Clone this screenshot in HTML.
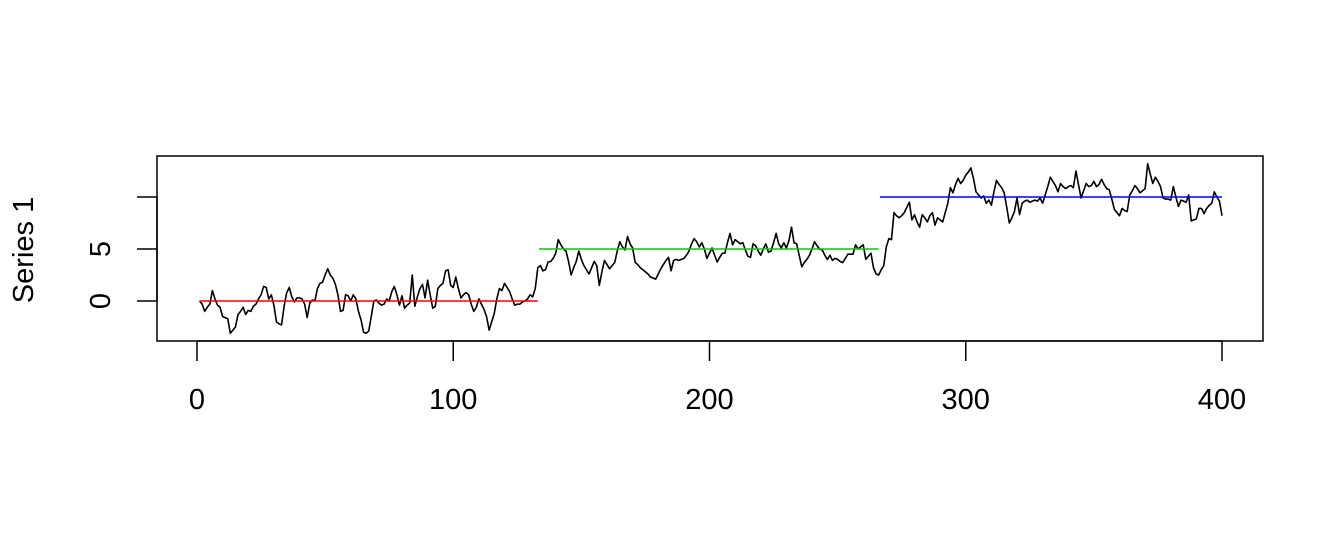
<!DOCTYPE html>
<html><head><meta charset="utf-8"><style>
html,body{margin:0;padding:0;background:#fff;}
svg{display:block;font-family:"Liberation Sans",Arial,sans-serif;}
</style></head><body>
<svg id="chart" width="1344" height="537" viewBox="0 0 1344 537"></svg>
<script>
const series1 = [
0.0,-0.3,-1.0,-0.6,-0.3,1.0,0.2,-0.4,-0.6,-1.5,
-1.6,-1.7,-3.1,-2.8,-2.5,-1.3,-1.0,-0.6,-1.3,-0.9,
-1.0,-0.5,-0.3,0.2,0.6,1.4,1.3,0.2,0.6,-0.4,
-2.0,-2.2,-2.3,-0.5,0.8,1.3,0.4,-0.1,0.3,0.3,
0.2,-0.3,-1.6,-0.2,0.1,0.0,1.2,1.7,1.8,2.5,
3.1,2.5,2.2,1.6,0.6,-1.0,-0.9,0.6,0.5,0.0,
0.6,0.2,-1.0,-1.8,-3.0,-3.1,-2.9,-1.5,0.0,0.1,
-0.2,-0.4,-0.3,0.2,0.0,0.9,1.4,0.6,-0.4,0.5,
-0.7,-0.4,-0.2,2.5,-0.5,0.4,1.2,1.6,0.3,2.0,
0.6,-0.7,-0.5,1.2,1.5,1.7,2.9,3.0,1.5,1.3,
2.3,1.2,0.3,0.6,0.8,0.6,-0.3,-1.0,-0.6,0.2,
-0.3,-0.8,-1.5,-2.8,-2.0,-1.2,0.2,1.2,1.0,1.7,
1.3,0.9,0.2,-0.4,-0.3,-0.3,-0.1,0.0,0.2,0.6,
0.4,1.2,3.2,3.4,2.9,3.0,3.75,3.8,4.1,4.6,
5.9,5.4,5.0,4.8,3.8,2.5,3.2,3.8,4.8,4.0,
3.4,3.0,2.6,3.2,3.8,3.4,1.5,2.8,3.9,3.5,
3.1,3.4,3.7,4.8,5.7,5.2,4.9,6.2,5.5,5.1,
3.7,3.5,3.2,3.0,2.8,2.6,2.3,2.2,2.1,2.6,
3.1,3.5,3.9,4.2,2.9,3.9,4.0,3.9,4.0,4.1,
4.4,4.8,5.5,6.0,5.7,5.2,5.6,5.0,4.1,4.6,
5.1,4.4,3.75,4.2,4.6,4.6,5.6,6.5,5.4,5.9,
5.7,5.5,5.6,4.9,4.3,4.2,5.5,5.3,4.8,4.4,
5.0,5.5,4.7,4.8,5.6,6.5,5.5,5.1,5.6,5.1,
5.8,7.1,5.6,5.5,4.4,3.3,3.7,4.0,4.4,5.0,
5.7,5.3,5.0,4.9,4.4,4.0,4.4,3.9,4.1,4.0,
3.8,3.7,4.1,4.5,4.5,4.5,5.4,5.0,5.2,5.4,
4.0,4.3,4.6,3.2,2.6,2.5,3.0,3.4,5.2,6.0,
5.9,8.5,8.2,8.0,8.2,8.5,9.0,9.5,7.8,8.3,
7.6,7.1,8.3,8.0,7.6,8.2,8.5,7.3,8.0,7.8,
7.6,8.5,9.4,10.9,10.4,11.2,11.8,11.3,11.6,12.1,
12.4,12.8,11.8,10.5,10.2,9.9,10.1,9.4,9.7,9.2,
10.5,11.6,11.2,10.9,10.4,9.0,7.5,8.0,8.6,9.9,
8.3,9.4,9.6,9.7,9.5,9.6,9.7,9.6,9.9,9.4,
10.2,11.0,11.9,11.5,11.1,10.5,11.3,11.0,10.8,11.0,
11.1,10.9,12.5,11.2,9.9,10.6,11.3,11.0,11.1,11.5,
11.0,11.2,11.7,11.2,10.8,10.7,9.8,8.8,8.5,8.2,
8.9,8.7,8.6,10.2,10.6,11.1,10.8,10.4,10.6,10.8,
13.2,12.2,11.3,11.9,11.5,11.0,9.9,9.8,9.8,9.7,
11.0,10.0,9.1,9.7,9.6,9.5,10.2,7.7,7.8,7.9,
8.9,8.9,8.4,8.9,9.2,9.4,10.5,10.0,9.6,8.2
];
const segStarts = [1, 133.5, 266.5];
const segEnds = [133, 266, 400];
const segMeans = [0, 5, 10];
const segColors = ["#ff0000", "#00cd00", "#0000ff"];
const xTicks = [0, 100, 200, 300, 400];
const yTicks = [0, 5, 10];
const yTickLabels = ["0", "5", ""];

const NS = "http://www.w3.org/2000/svg";
const svg = document.getElementById("chart");
const xs = v => 197 + v * 1025 / 400;
const ys = v => 301 - v * 10.4;
function mk(tag, attrs, parent) {
  const e = document.createElementNS(NS, tag);
  for (const k in attrs) e.setAttribute(k, attrs[k]);
  (parent || svg).appendChild(e);
  return e;
}
const box = mk("rect", {x:157, y:156, width:1106, height:185, fill:"none", stroke:"#000", "stroke-width":1.5});



// x axis
const xAxis = mk("g", {});


mk("line", {x1:xs(xTicks[0]), x2:xs(xTicks[xTicks.length-1]), y1:341, y2:341, stroke:"#000", "stroke-width":1.5}, xAxis);
xTicks.forEach(t => {
  mk("line", {x1:xs(t), x2:xs(t), y1:341, y2:361, stroke:"#000", "stroke-width":1.5}, xAxis);
  const tx = mk("text", {x:xs(t), y:409, "text-anchor":"middle", "font-size":29, fill:"#000"}, xAxis);
  tx.textContent = t;
  
  
});

// y axis
const yAxis = mk("g", {});


mk("line", {x1:157, x2:157, y1:ys(yTicks[0]), y2:ys(yTicks[yTicks.length-1]), stroke:"#000", "stroke-width":1.5}, yAxis);
yTicks.forEach((t, i) => {
  mk("line", {x1:137, x2:157, y1:ys(t), y2:ys(t), stroke:"#000", "stroke-width":1.5}, yAxis);
  if (yTickLabels[i]) {
    const tx = mk("text", {x:110, y:ys(t), "text-anchor":"middle", "font-size":29, fill:"#000", transform:`rotate(-90 110 ${ys(t)})`}, yAxis);
    tx.textContent = yTickLabels[i];
    
    
  }
});
const yt = mk("text", {x:33, y:250, "text-anchor":"middle", "font-size":29, fill:"#000", transform:"rotate(-90 33 250)"});
yt.textContent = "Series 1";



// series line
const pts = series1.map((v, i) => xs(i + 1).toFixed(2) + "," + ys(v).toFixed(2)).join(" ");
const pl = mk("polyline", {points:pts, fill:"none", stroke:"#000", "stroke-width":1.6, "stroke-linejoin":"round"});



// segment means
segMeans.forEach((m, i) => {
  const l = mk("line", {x1:xs(segStarts[i]), x2:xs(segEnds[i]), y1:ys(m), y2:ys(m), stroke:segColors[i], "stroke-width":1.6});
  
  
});
</script>
</body></html>
